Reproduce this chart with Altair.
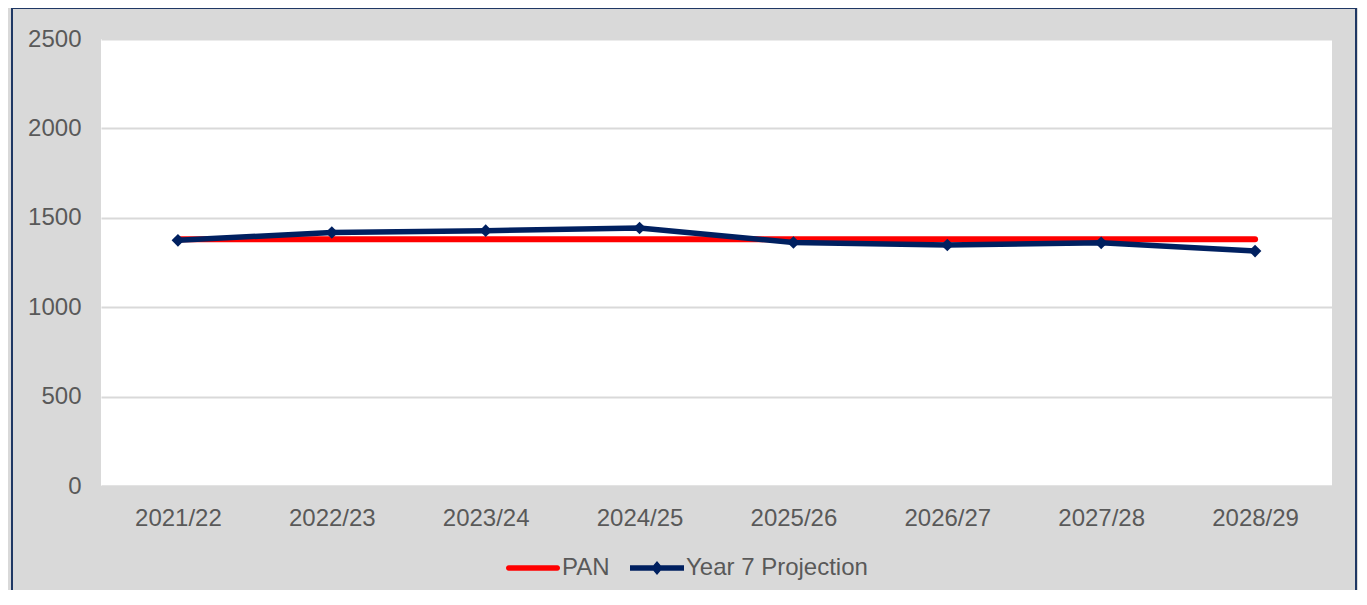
import altair as alt
import pandas as pd

years = ["2021/22", "2022/23", "2023/24", "2024/25", "2025/26", "2026/27", "2027/28", "2028/29"]
pan = [1380, 1380, 1380, 1380, 1380, 1380, 1380, 1380]
year7 = [1374, 1418, 1428, 1443, 1362, 1348, 1360, 1314]
series_names = ["PAN", "Year 7 Projection"]
series_colors = ["#ff0000", "#002060"]
y_ticks = [0, 500, 1000, 1500, 2000, 2500]

rows = []
for i, yr in enumerate(years):
    rows.append({"year": yr, "series": "PAN", "value": pan[i]})
    rows.append({"year": yr, "series": "Year 7 Projection", "value": year7[i]})
df = pd.DataFrame(rows)

FONT = "Liberation Sans"
TXT = "#595959"
W, H = 1231, 447

x_enc = alt.X("year:N", sort=years, title=None,
              scale=alt.Scale(type="point", padding=0.5),
              axis=alt.Axis(labelAngle=0, ticks=False, tickSize=0, labelPadding=20,
                            domainColor="#d9d9d9", domainWidth=2, grid=False,
                            labelFontSize=24, labelColor=TXT, labelFont=FONT))
y_enc = alt.Y("value:Q", title=None,
              scale=alt.Scale(domain=[0, 2500], nice=False),
              axis=alt.Axis(values=y_ticks, format="d", ticks=False, tickSize=0, domain=False,
                            gridColor="#d9d9d9", gridWidth=2, labelPadding=20,
                            labelFontSize=24, labelColor=TXT, labelFont=FONT))

base = alt.Chart(df)

pan_line = base.transform_filter(alt.datum.series == "PAN").mark_line(
    strokeWidth=6, strokeCap="round", color=series_colors[0]
).encode(x=x_enc, y=y_enc)

y7_line = base.transform_filter(alt.datum.series == "Year 7 Projection").mark_line(
    strokeWidth=5.5, color=series_colors[1]
).encode(x=x_enc, y=y_enc)

y7_pts = base.transform_filter(alt.datum.series == "Year 7 Projection").mark_point(
    shape="diamond", filled=True, size=160, opacity=1, color=series_colors[1]
).encode(x=x_enc, y=y_enc)

line_path = "M-0.9,-0.1H0.9A0.1,0.1 0 0 1 0.9,0.1H-0.9A0.1,0.1 0 0 1 -0.9,-0.1Z"
line_diamond_path = "M-1,-0.1H1V0.1H-1Z M0,-0.26L0.22,0L0,0.26L-0.22,0Z"

legend_spec = dict(title=None, orient="none", direction="horizontal",
                   legendX=405, legendY=502, symbolSize=2916,
                   symbolStrokeWidth=0, labelFontSize=24, labelColor=TXT,
                   labelFont=FONT, labelOffset=2, columnPadding=20, padding=0,
                   labelLimit=0, symbolOpacity=1)

legend_layer = base.transform_filter("false").mark_point(filled=True, opacity=1, strokeWidth=0).encode(
    x=x_enc, y=y_enc,
    color=alt.Color("series:N", scale=alt.Scale(domain=series_names, range=series_colors),
                    legend=alt.Legend(**legend_spec)),
    shape=alt.Shape("series:N", scale=alt.Scale(domain=series_names, range=[line_path, line_diamond_path]),
                    legend=alt.Legend(**legend_spec))
)

border = alt.Chart(pd.DataFrame({"b": [0]})).mark_rect(
    fill=None, stroke="#1f3864", strokeWidth=2, clip=False
).encode(x=alt.value(-89), x2=alt.value(W + 24), y=alt.value(-31), y2=alt.value(H + 200))

chart = alt.layer(pan_line, y7_line, y7_pts, legend_layer, border).properties(
    width=W, height=H,
    padding={"left": 93, "top": 31, "right": 26, "bottom": 104},
    autosize=alt.AutoSizeParams(type="none"),
    background="#d9d9d9",
).configure_view(fill="white", stroke=None)

chart.save("out.html", embed_options={"renderer": "svg", "actions": False})
